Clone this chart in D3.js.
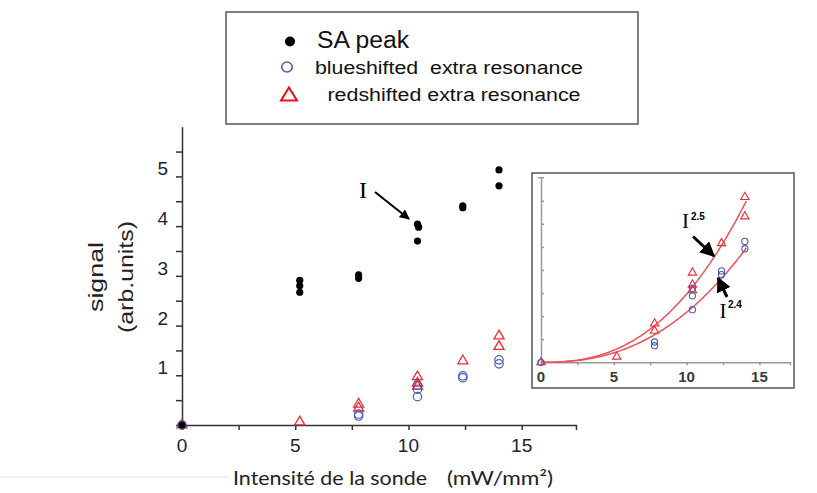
<!DOCTYPE html>
<html>
<head>
<meta charset="utf-8">
<script src="https://cdn.jsdelivr.net/npm/d3@7"></script>
<style>
  body { margin: 0; background: #fff; }
  svg { display: block; }
  text { font-family: "Liberation Sans", Arial, sans-serif; white-space: pre; }
</style>
</head>
<body>
<svg id="chart" width="817" height="493"></svg>
<script>
// data
var saPeak = [[0,0],[5.2,2.91],[5.2,2.80],[5.2,2.67],[7.8,3.02],[7.8,2.95],
              [10.4,4.04],[10.45,3.98],[10.4,3.70],[12.4,4.41],[12.4,4.37],[14.0,5.13],[14.0,4.81]];
var blueShift = [[0,0],[7.8,0.22],[7.8,0.18],[10.4,0.80],[10.4,0.72],[10.4,0.57],
                 [12.4,0.99],[12.4,0.95],[14.0,1.31],[14.0,1.23]];
var redShift = [[0,0],[5.2,0.06],[7.8,0.42],[7.8,0.34],[10.4,0.97],[10.4,0.84],[10.4,0.78],
                [12.4,1.29],[14.0,1.79],[14.0,1.58]];
var mainXTicks = [0,2.5,5,7.5,10,12.5,15];
var mainXLabels = [0,5,10,15];
var mainYTicks = [0,0.5,1,1.5,2,2.5,3,3.5,4,4.5,5,5.5];
var mainYLabels = [1,2,3,4,5];
var insetXTicks = [0,2.5,5,7.5,10,12.5,15];
var insetXLabels = [0,5,10,15];
var insetYTicks = [0,0.25,0.5,0.75,1,1.25,1.5,1.75];
// power-law fits shown in the inset: a * I^n
var fitRed = {a: 0.00234, n: 2.5};
var fitBlue = {a: 0.00216, n: 2.4};
var fitRange = [0, 14.1];

var svg = d3.select("#chart");
var RED = "#ee2a35", BLUE = "#4b5cb4";

// ---------- main plot ----------
var x = d3.scaleLinear().domain([0, 17.4]).range([182, 576]);
var y = d3.scaleLinear().domain([0, 6]).range([425, 126.7]);

var xAxis = d3.axisBottom(x).tickValues(mainXTicks).tickSize(5).tickSizeOuter(5).tickFormat("");
var gx = svg.append("g").attr("transform", "translate(0,425)").call(xAxis);
var yAxis = d3.axisLeft(y).tickValues(mainYTicks).tickSize(6).tickSizeOuter(0).tickFormat("");
var gy = svg.append("g").attr("transform", "translate(182,0)").call(yAxis);
[gx, gy].forEach(function(g){
  g.selectAll("path,line").attr("stroke", "#333").attr("stroke-width", 1.5);
});

svg.append("g").selectAll("text").data(mainXLabels).enter().append("text")
  .attr("x", function(d){ return x(d); }).attr("y", 452)
  .attr("text-anchor", "middle").style("font-size", "19px").style("fill", "#1e2230")
  .text(function(d){ return d; });
svg.append("g").selectAll("text").data(mainYLabels).enter().append("text")
  .attr("x", 168).attr("y", function(d){ return y(d) - 1; })
  .attr("text-anchor", "end").style("font-size", "19px").style("fill", "#1e2230")
  .text(function(d){ return d; });

// axis titles
svg.append("text").attr("transform", "translate(103,277) rotate(-90)")
  .attr("text-anchor", "middle").style("font-size", "21px").style("fill", "#222")
  .attr("textLength", 70).attr("lengthAdjust", "spacingAndGlyphs").text("signal");
svg.append("text").attr("transform", "translate(133,277) rotate(-90)")
  .attr("text-anchor", "middle").style("font-size", "21px").style("fill", "#222")
  .attr("textLength", 112).attr("lengthAdjust", "spacingAndGlyphs").text("(arb.units)");
svg.append("line").attr("x1", 0).attr("x2", 228).attr("y1", 477).attr("y2", 477)
  .attr("stroke", "#e4e4e4");
svg.append("text").attr("x", 233).attr("y", 485).style("font-family", "Lato, 'Open Sans', sans-serif")
  .style("font-size", "19px").style("fill", "#222")
  .attr("textLength", 194).attr("lengthAdjust", "spacingAndGlyphs").text("Intensité de la sonde");
svg.append("text").attr("x", 447).attr("y", 485).style("font-family", "Lato, 'Open Sans', sans-serif")
  .style("font-size", "19px").style("fill", "#222")
  .attr("textLength", 106).attr("lengthAdjust", "spacingAndGlyphs").text("(mW/mm²)");

var tri = function(s){ return d3.symbol().type(d3.symbolTriangle).size(s)(); };

svg.append("g").selectAll("path").data(redShift).enter().append("path")
  .attr("d", tri(44))
  .attr("transform", function(d){ return "translate(" + x(d[0]) + "," + y(d[1]) + ")"; })
  .attr("fill", "none").attr("stroke", RED).attr("stroke-width", 1.3);
svg.append("g").selectAll("circle").data(blueShift).enter().append("circle")
  .attr("cx", function(d){ return x(d[0]); }).attr("cy", function(d){ return y(d[1]); })
  .attr("r", 4.2).attr("fill", "none").attr("stroke", BLUE).attr("stroke-width", 1.2);
svg.append("g").selectAll("circle").data(saPeak).enter().append("circle")
  .attr("cx", function(d){ return x(d[0]); }).attr("cy", function(d){ return y(d[1]); })
  .attr("r", 3.6).attr("fill", "#000");

// "I" annotation with arrow
svg.append("defs").append("marker").attr("id", "head").attr("viewBox", "0 0 10 10")
  .attr("refX", 9).attr("refY", 5).attr("markerWidth", 5).attr("markerHeight", 5)
  .attr("orient", "auto").append("path").attr("d", "M0,0L10,5L0,10z").attr("fill", "#000");
svg.append("text").attr("x", 363).attr("y", 198).attr("text-anchor", "middle")
  .style("font-family", "'Liberation Serif', 'Times New Roman', serif").style("font-size", "24px")
  .text("I");
svg.append("line").attr("x1", 375).attr("y1", 192).attr("x2", 409).attr("y2", 219)
  .attr("stroke", "#000").attr("stroke-width", 2).attr("marker-end", "url(#head)");

// ---------- legend ----------
var lg = svg.append("g");
lg.append("rect").attr("x", 226).attr("y", 12).attr("width", 412).attr("height", 112)
  .attr("fill", "#fff").attr("stroke", "#555").attr("stroke-width", 1.5);
lg.append("circle").attr("cx", 290).attr("cy", 41.5).attr("r", 5).attr("fill", "#000");
lg.append("text").attr("x", 317).attr("y", 48).style("font-size", "23px").style("fill", "#111")
  .attr("textLength", 92).attr("lengthAdjust", "spacingAndGlyphs").text("SA peak");
lg.append("ellipse").attr("cx", 287).attr("cy", 67).attr("rx", 5.3).attr("ry", 5)
  .attr("fill", "none").attr("stroke", BLUE).attr("stroke-width", 1.6);
lg.append("text").attr("x", 315).attr("y", 74).style("font-size", "18px").style("fill", "#111")
  .attr("textLength", 268).attr("lengthAdjust", "spacingAndGlyphs").text("blueshifted  extra resonance");
lg.append("path").attr("d", "M289,87.5L297,100.5L281,100.5Z")
  .attr("fill", "none").attr("stroke", "#e8101c").attr("stroke-width", 2);
lg.append("text").attr("x", 327.5).attr("y", 100.5).style("font-size", "18px").style("fill", "#111")
  .attr("textLength", 253).attr("lengthAdjust", "spacingAndGlyphs").text("redshifted extra resonance");

// ---------- inset ----------
var ins = svg.append("g");
ins.append("rect").attr("x", 532).attr("y", 173).attr("width", 262).attr("height", 215)
  .attr("fill", "#fff").attr("stroke", "#555").attr("stroke-width", 1.5);
var ix = d3.scaleLinear().domain([0, 17.1]).range([541, 790]);
var iy = d3.scaleLinear().domain([0, 2]).range([362.3, 177.7]);
var igx = ins.append("g").attr("transform", "translate(0,362.3)")
  .call(d3.axisBottom(ix).tickValues(insetXTicks).tickSize(3).tickSizeOuter(3).tickFormat(""));
var igy = ins.append("g").attr("transform", "translate(541,0)")
  .call(d3.axisRight(iy).tickValues(insetYTicks).tickSize(3).tickSizeOuter(0).tickFormat(""));
[igx, igy].forEach(function(g){
  g.selectAll("path,line").attr("stroke", "#999").attr("stroke-width", 1.5);
});
ins.append("line").attr("x1", 538).attr("x2", 544).attr("y1", 177.7).attr("y2", 177.7)
  .attr("stroke", "#999").attr("stroke-width", 1.5);
ins.append("g").selectAll("text").data(insetXLabels).enter().append("text")
  .attr("x", function(d){ return ix(d); }).attr("y", 382)
  .attr("text-anchor", "middle").style("font-size", "15px").style("fill", "#3a3a3a")
  .style("font-weight", "bold").text(function(d){ return d; });

var fitLine = d3.line().x(function(d){ return ix(d[0]); }).y(function(d){ return iy(d[1]); });
[fitRed, fitBlue].forEach(function(f){
  var pts = d3.range(fitRange[0], fitRange[1] + 0.001, 0.1).map(function(v){
    return [v, f.a * Math.pow(v, f.n)];
  });
  ins.append("path").attr("d", fitLine(pts)).attr("fill", "none")
    .attr("stroke", "#f0505a").attr("stroke-width", 1.5);
});

ins.append("g").selectAll("path").data(redShift).enter().append("path")
  .attr("d", tri(30))
  .attr("transform", function(d){ return "translate(" + ix(d[0]) + "," + iy(d[1]) + ")"; })
  .attr("fill", "none").attr("stroke", RED).attr("stroke-width", 1.1);
ins.append("g").selectAll("circle").data(blueShift).enter().append("circle")
  .attr("cx", function(d){ return ix(d[0]); }).attr("cy", function(d){ return iy(d[1]); })
  .attr("r", 3.1).attr("fill", "none").attr("stroke", BLUE).attr("stroke-width", 1.1);

var serif = "'Liberation Serif', 'Times New Roman', serif";
ins.append("text").attr("x", 685.5).attr("y", 228).attr("text-anchor", "middle")
  .style("font-family", serif).style("font-size", "21px").text("I");
ins.append("text").attr("x", 691).attr("y", 220).style("font-size", "10px").style("font-weight", "bold")
  .text("2.5");
ins.append("text").attr("x", 723).attr("y", 318).attr("text-anchor", "middle")
  .style("font-family", serif).style("font-size", "21px").text("I");
ins.append("text").attr("x", 728).attr("y", 308).style("font-size", "10px").style("font-weight", "bold")
  .text("2.4");
ins.append("line").attr("x1", 693).attr("y1", 236.5).attr("x2", 714).attr("y2", 256)
  .attr("stroke", "#000").attr("stroke-width", 3).attr("marker-end", "url(#head)");
ins.append("line").attr("x1", 727).attr("y1", 297).attr("x2", 718).attr("y2", 278)
  .attr("stroke", "#000").attr("stroke-width", 3).attr("marker-end", "url(#head)");
</script>
</body>
</html>
